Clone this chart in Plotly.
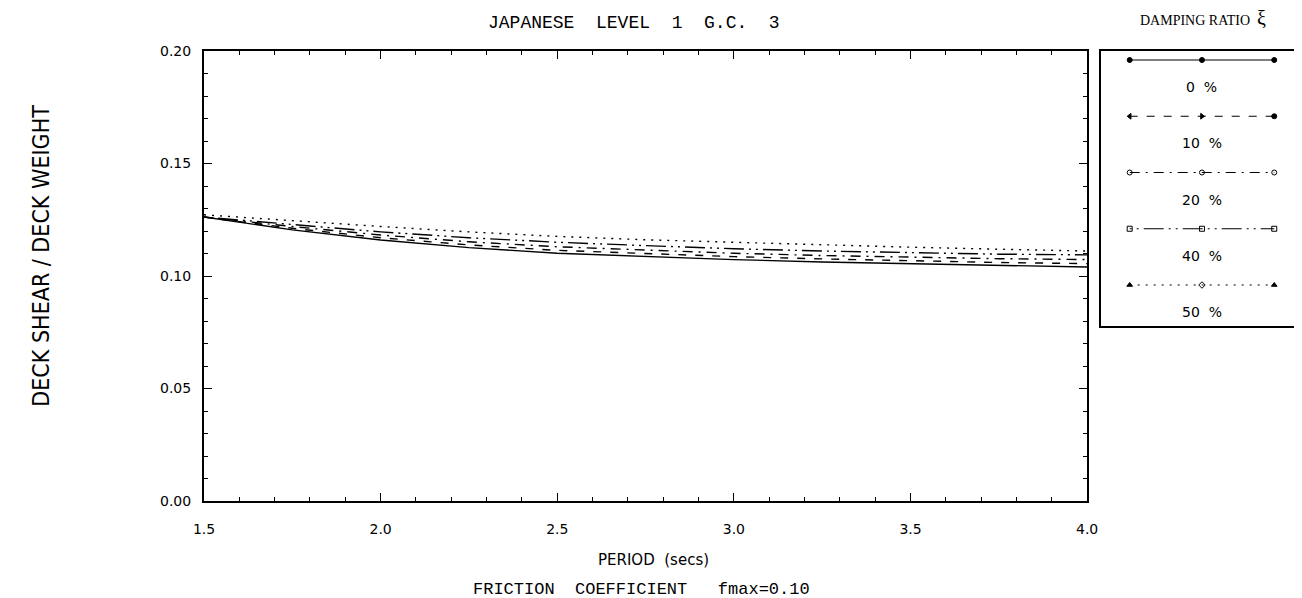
import plotly.graph_objects as go

# deck shear / deck weight, per damping ratio
period = [1.5, 1.75, 2.0, 2.25, 2.5, 2.75, 3.0, 3.25, 3.5, 3.75, 4.0]
shear_0 = [0.1262, 0.1205, 0.1160, 0.1126, 0.1101, 0.1086, 0.1073, 0.1062, 0.1054, 0.1047, 0.1040]
shear_10 = [0.1262, 0.1212, 0.1170, 0.1138, 0.1114, 0.1099, 0.1086, 0.1076, 0.1067, 0.1060, 0.1055]
shear_20 = [0.1262, 0.1220, 0.1182, 0.1152, 0.1130, 0.1114, 0.1101, 0.1091, 0.1083, 0.1077, 0.1073]
shear_40 = [0.1262, 0.1228, 0.1196, 0.1170, 0.1150, 0.1135, 0.1121, 0.1111, 0.1103, 0.1097, 0.1094]
shear_50 = [0.1272, 0.1245, 0.1220, 0.1196, 0.1176, 0.1161, 0.1149, 0.1138, 0.1128, 0.1119, 0.1111]
damping_labels = ["0  %", "10  %", "20  %", "40  %", "50  %"]

W, H = 1302, 598
L, R, T, B = 196, 1088, 43, 493   # plot frame in pixels
LEG_L, LEG_B = 1102, 318


def px2x(px):
    return (px - L) / (W - L)


def px2y(py):
    return (B - py) / (B - T)


series = [shear_0, shear_10, shear_20, shear_40, shear_50]
dashes = ["solid", "8px,9px", "10px,6px,2px,6px", "2px,5px,2px,5px,20px,5px", "2px,6px"]
symbols = [
    ["circle", "circle", "circle"],
    ["triangle-left", "triangle-right", "circle"],
    ["circle-open", "circle-open", "circle-open"],
    ["square-open", "square-open", "square-open"],
    ["triangle-up", "diamond-open", "triangle-up"],
]

fig = go.Figure()

for ys, d in zip(series, dashes):
    fig.add_trace(go.Scatter(x=period, y=ys, mode="lines", xaxis="x", yaxis="y",
                             line=dict(color="black", width=1.4, dash=d),
                             showlegend=False, hoverinfo="skip"))

# hand made legend box on its own axes
for i, (lab, d, sym) in enumerate(zip(damping_labels, dashes, symbols)):
    row = 9 + i * 56.25
    fig.add_trace(go.Scatter(x=[29, 102, 175], y=[row] * 3, mode="lines+markers",
                             xaxis="x2", yaxis="y2",
                             line=dict(color="black", width=1.2, dash=d),
                             marker=dict(symbol=sym, size=5, color="black",
                                         line=dict(color="black", width=1)),
                             showlegend=False, hoverinfo="skip"))
    fig.add_annotation(x=102, y=row + 27, xref="x2", yref="y2", text=lab,
                       showarrow=False, font=dict(family="DejaVu Sans", size=14, color="black"))

axis_font = dict(family="DejaVu Sans", size=14, color="black")

fig.update_layout(
    width=W, height=H,
    margin=dict(l=L, r=0, t=T, b=H - B),
    paper_bgcolor="white", plot_bgcolor="white",
    xaxis=dict(domain=[0, px2x(R)], range=[1.5, 4.0], dtick=0.5, tickformat=".1f",
               showline=True, linewidth=2, linecolor="black", mirror="ticks",
               ticks="inside", ticklen=8, tickcolor="black", tickwidth=1,
               minor=dict(dtick=0.1, ticks="inside", ticklen=4, tickcolor="black"),
               showgrid=False, zeroline=False, tickfont=axis_font, ticklabelstandoff=14),
    yaxis=dict(domain=[0, 1], range=[0, 0.2], dtick=0.05, tickformat=".2f",
               showline=True, linewidth=2, linecolor="black", mirror="ticks",
               ticks="inside", ticklen=8, tickcolor="black", tickwidth=1,
               minor=dict(dtick=0.01, ticks="inside", ticklen=4, tickcolor="black"),
               showgrid=False, zeroline=False, tickfont=axis_font, ticklabelstandoff=8),
    xaxis2=dict(domain=[px2x(LEG_L), 1], range=[0, W - LEG_L], anchor="y2",
                showline=True, linewidth=1.5, linecolor="black", mirror=True,
                showticklabels=False, ticks="", showgrid=False, zeroline=False),
    yaxis2=dict(domain=[px2y(LEG_B), 1], range=[LEG_B - T, 0], anchor="x2",
                showline=True, linewidth=1.5, linecolor="black", mirror=True,
                showticklabels=False, ticks="", showgrid=False, zeroline=False),
)

texts = [
    dict(text="JAPANESE  LEVEL  1  G.C.  3", x=px2x(630), y=px2y(15),
         font=dict(family="Liberation Mono", size=18)),
    dict(text="PERIOD  (secs)", x=px2x(650), y=px2y(552),
         font=dict(family="DejaVu Sans", size=15)),
    dict(text="FRICTION  COEFFICIENT   fmax=0.10", x=px2x(638), y=px2y(581),
         font=dict(family="Liberation Mono", size=17)),
    dict(text="DAMPING RATIO  <span style='font-size:20px'>ξ</span>", x=px2x(1205), y=px2y(10),
         font=dict(family="Liberation Serif", size=14)),
    dict(text="DECK SHEAR / DECK WEIGHT", x=px2x(31), y=px2y(248), textangle=-90,
         font=dict(family="DejaVu Sans Condensed, Liberation Sans Narrow", size=23)),
]
for t in texts:
    t["font"]["color"] = "black"
    fig.add_annotation(xref="paper", yref="paper", showarrow=False,
                       xanchor="center", yanchor="middle", **t)

fig.write_html("out.html")
